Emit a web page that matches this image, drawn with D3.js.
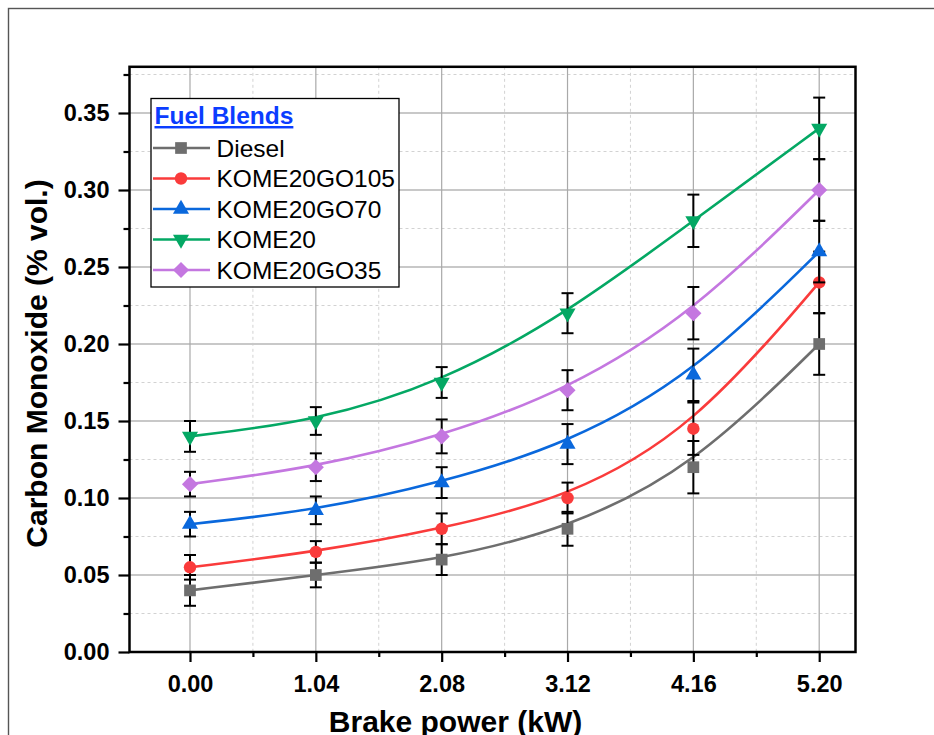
<!DOCTYPE html>
<html>
<head>
<meta charset="utf-8">
<script src="https://cdn.jsdelivr.net/npm/d3@7"></script>
<style>
  html, body { margin: 0; padding: 0; background: #fff; }
  svg { display: block; }
  text { font-family: "Liberation Sans", Arial, sans-serif; }
</style>
</head>
<body>
<svg id="chart" width="934" height="735"></svg>
<script>
// ---------------- data ----------------
const brakePower = [0.00, 1.04, 2.08, 3.12, 4.16, 5.20];
const xTickLabels = ["0.00", "1.04", "2.08", "3.12", "4.16", "5.20"];
const xMinorTicks = [0.52, 1.56, 2.60, 3.64, 4.68];
const yTickValues = [0.00, 0.05, 0.10, 0.15, 0.20, 0.25, 0.30, 0.35];
const yMinorTicks = [0.025, 0.075, 0.125, 0.175, 0.225, 0.275, 0.325, 0.375];

const seriesNames = ["Diesel", "KOME20GO105", "KOME20GO70", "KOME20", "KOME20GO35"];
const seriesColors = ["#6e6e6e", "#fa3b3b", "#0a68dc", "#04a864", "#c477e0"];
const seriesSymbols = ["square", "circle", "triangleUp", "triangleDown", "diamond"];

const diesel        = [0.040, 0.050, 0.060, 0.080, 0.120, 0.200];
const dieselErr     = [0.010, 0.008, 0.010, 0.011, 0.017, 0.020];
const kome20go105   = [0.055, 0.065, 0.080, 0.100, 0.145, 0.240];
const kome20go105Err= [0.008, 0.007, 0.010, 0.010, 0.017, 0.020];
const kome20go70    = [0.083, 0.092, 0.110, 0.135, 0.180, 0.260];
const kome20go70Err = [0.008, 0.009, 0.010, 0.013, 0.017, 0.020];
const kome20        = [0.140, 0.150, 0.175, 0.220, 0.280, 0.340];
const kome20Err     = [0.010, 0.009, 0.010, 0.013, 0.017, 0.020];
const kome20go35    = [0.109, 0.120, 0.140, 0.170, 0.220, 0.300];
const kome20go35Err = [0.008, 0.009, 0.011, 0.013, 0.017, 0.020];

const seriesValues = [diesel, kome20go105, kome20go70, kome20, kome20go35];
const seriesErrors = [dieselErr, kome20go105Err, kome20go70Err, kome20Err, kome20go35Err];

// ---------------- layout ----------------
const svg = d3.select("#chart");
const pLeft = 129.5, pRight = 855.5, pTop = 66.8, pBottom = 652;

const x = d3.scaleLinear().domain([-0.5, 5.5]).range([pLeft, pRight]);
const y = d3.scaleLinear().domain([0, 0.38]).range([pBottom, pTop]);

// outer border
svg.append("rect")
  .attr("x", 8.5).attr("y", 8.5).attr("width", 960).attr("height", 760)
  .attr("fill", "none").attr("stroke", "#555").attr("stroke-width", 1.4);

// ---------------- grid ----------------
const grid = svg.append("g");
grid.selectAll(".hminor").data(yMinorTicks).join("line")
  .attr("x1", pLeft).attr("x2", pRight)
  .attr("y1", d => y(d)).attr("y2", d => y(d))
  .attr("stroke", "#d2d2d2").attr("stroke-width", 1).attr("stroke-dasharray", "3,3");
grid.selectAll(".vminor").data(xMinorTicks).join("line")
  .attr("x1", d => x(d)).attr("x2", d => x(d))
  .attr("y1", pTop).attr("y2", pBottom)
  .attr("stroke", "#d2d2d2").attr("stroke-width", 1).attr("stroke-dasharray", "3,3");
grid.selectAll(".hmajor").data(yTickValues.filter(v => v > 0)).join("line")
  .attr("x1", pLeft).attr("x2", pRight)
  .attr("y1", d => y(d)).attr("y2", d => y(d))
  .attr("stroke", "#c8c8c8").attr("stroke-width", 2);
grid.selectAll(".vmajor").data(brakePower).join("line")
  .attr("x1", d => x(d)).attr("x2", d => x(d))
  .attr("y1", pTop).attr("y2", pBottom)
  .attr("stroke", "#a9a9a9").attr("stroke-width", 1.2);

// ---------------- axes ----------------
const yAxis = d3.axisLeft(y).tickValues(yTickValues).tickSize(11).tickPadding(9)
  .tickFormat(d3.format(".2f"));
const yAxisMinor = d3.axisLeft(y).tickValues(yMinorTicks).tickSize(6).tickFormat("");
const xAxis = d3.axisBottom(x).tickValues(brakePower).tickSize(10).tickPadding(13)
  .tickFormat((d, i) => xTickLabels[i]);
const xAxisMinor = d3.axisBottom(x).tickValues(xMinorTicks).tickSize(5).tickFormat("");

function styleAxis(g) {
  g.select(".domain").remove();
  g.selectAll(".tick line").attr("stroke", "#000").attr("stroke-width", 2.2);
  g.selectAll(".tick text").attr("fill", "#000")
    .style("font-family", '"Liberation Sans", Arial, sans-serif')
    .style("font-weight", "bold").style("font-size", "23.5px");
}
svg.append("g").attr("transform", `translate(${pLeft},0)`).call(yAxis).call(styleAxis);
svg.append("g").attr("transform", `translate(${pLeft},0)`).call(yAxisMinor).call(styleAxis);
svg.append("g").attr("transform", `translate(0,${pBottom})`).call(xAxis).call(styleAxis);
svg.append("g").attr("transform", `translate(0,${pBottom})`).call(xAxisMinor).call(styleAxis);

// frame
svg.append("rect")
  .attr("x", pLeft).attr("y", pTop).attr("width", pRight - pLeft).attr("height", pBottom - pTop)
  .attr("fill", "none").attr("stroke", "#000").attr("stroke-width", 2.5);

// axis titles
svg.append("text")
  .attr("x", 455.5).attr("y", 731.5).attr("text-anchor", "middle")
  .style("font-weight", "bold").style("font-size", "30px").attr("fill", "#000")
  .text("Brake power (kW)");
svg.append("text")
  .attr("transform", "translate(46.5,363.5) rotate(-90)").attr("text-anchor", "middle")
  .style("font-weight", "bold").style("font-size", "30px").attr("fill", "#000")
  .text("Carbon Monoxide (% vol.)");

// ---------------- symbols ----------------
function symbolPath(kind) {
  switch (kind) {
    case "square": return d3.symbol(d3.symbolSquare, 137)();
    case "circle": return d3.symbol(d3.symbolCircle, 122)();
    case "triangleUp": return d3.symbol(d3.symbolTriangle, 112)();
    case "triangleDown": return d3.symbol(d3.symbolTriangle, 112)();
    case "diamond": return d3.symbol(d3.symbolSquare, 130)();
  }
}
function symbolRotate(kind) {
  if (kind === "triangleDown") return " rotate(180)";
  if (kind === "diamond") return " rotate(45)";
  return "";
}

// ---------------- series ----------------
const line = d3.line().x(d => x(d[0])).y(d => y(d[1])).curve(d3.curveBasis);
const capW = 6;

seriesNames.forEach((name, s) => {
  const pts = brakePower.map((bp, i) => [bp, seriesValues[s][i], seriesErrors[s][i]]);
  const g = svg.append("g");
  g.append("path").datum(pts).attr("d", line)
    .attr("fill", "none").attr("stroke", seriesColors[s]).attr("stroke-width", 2.6);
  const eb = g.selectAll(".eb").data(pts).join("g");
  eb.append("line")
    .attr("x1", d => x(d[0])).attr("x2", d => x(d[0]))
    .attr("y1", d => y(d[1] - d[2])).attr("y2", d => y(d[1] + d[2]))
    .attr("stroke", "#000").attr("stroke-width", 2);
  eb.append("line")
    .attr("x1", d => x(d[0]) - capW).attr("x2", d => x(d[0]) + capW)
    .attr("y1", d => y(d[1] + d[2])).attr("y2", d => y(d[1] + d[2]))
    .attr("stroke", "#000").attr("stroke-width", 2);
  eb.append("line")
    .attr("x1", d => x(d[0]) - capW).attr("x2", d => x(d[0]) + capW)
    .attr("y1", d => y(d[1] - d[2])).attr("y2", d => y(d[1] - d[2]))
    .attr("stroke", "#000").attr("stroke-width", 2);
  g.selectAll(".mk").data(pts).join("path")
    .attr("d", symbolPath(seriesSymbols[s]))
    .attr("transform", d => `translate(${x(d[0])},${y(d[1])})${symbolRotate(seriesSymbols[s])}`)
    .attr("fill", seriesColors[s]);
});

// ---------------- legend ----------------
const lg = svg.append("g");
lg.append("rect").attr("x", 151).attr("y", 98.5).attr("width", 248).attr("height", 188.5)
  .attr("fill", "#fff").attr("stroke", "#000").attr("stroke-width", 1.3);
lg.append("text").attr("x", 154.5).attr("y", 124)
  .style("font-weight", "bold").style("font-size", "24.5px").attr("fill", "#0b3dff")
  .attr("text-decoration", "underline")
  .text("Fuel Blends");
seriesNames.forEach((name, s) => {
  const ry = 148 + s * 30.5;
  lg.append("line").attr("x1", 153).attr("x2", 210).attr("y1", ry).attr("y2", ry)
    .attr("stroke", seriesColors[s]).attr("stroke-width", 2.6);
  lg.append("path").attr("d", symbolPath(seriesSymbols[s]))
    .attr("transform", `translate(181,${ry})${symbolRotate(seriesSymbols[s])}`)
    .attr("fill", seriesColors[s]);
  lg.append("text").attr("x", 216.5).attr("y", ry + 8.5)
    .style("font-size", "24.5px").attr("fill", "#000").text(name);
});
</script>
</body>
</html>
